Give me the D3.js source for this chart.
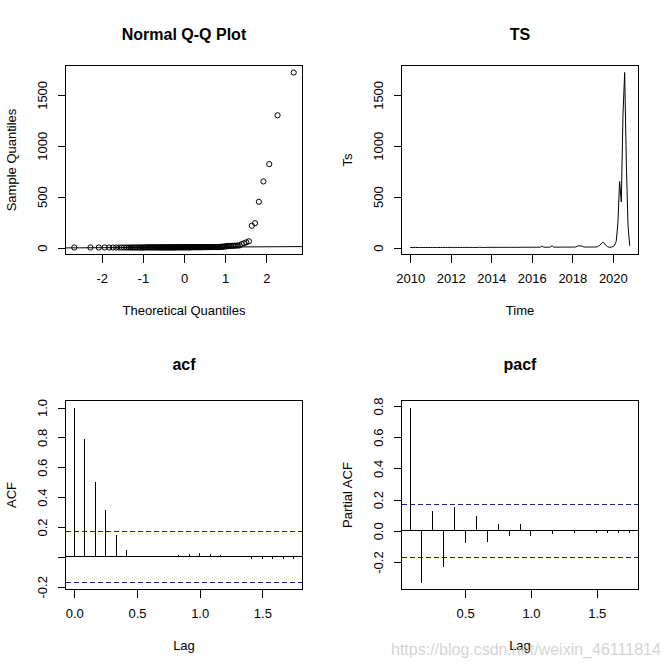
<!DOCTYPE html>
<html><head><meta charset="utf-8">
<script src="https://cdn.jsdelivr.net/npm/d3@7/dist/d3.min.js"></script>
<style>
body{margin:0;background:#fff}
svg{display:block}
text{font-family:"Liberation Sans",Arial,sans-serif}
line,rect{shape-rendering:crispEdges}
</style>
</head><body>
<svg id="c" width="672" height="671"></svg>
<script>
// ---------------- data ----------------
const tsStartYear = 2010;          // monthly series starting Jan 2010
const tsValues = [
  1,1,1,2,1,1,2,1,1,2,1,1,          // 2010
  1,2,1,1,2,1,1,2,2,1,1,2,          // 2011
  2,1,2,2,1,2,2,1,2,2,1,2,          // 2012
  2,2,1,2,2,3,2,2,1,2,3,2,          // 2013
  2,3,2,2,3,2,3,2,2,3,2,3,          // 2014
  3,2,3,3,2,3,3,4,3,3,4,3,          // 2015
  3,4,3,4,4,3,16,4,3,4,4,5,         // 2016
  17,4,5,4,4,5,4,5,5,4,5,5,         // 2017
  5,6,5,14,18,16,12,6,5,6,5,6,      // 2018
  6,5,6,10,20,35,52,42,20,8,3,5,    // 2019
  10,22,62,240,650,450,1300,1720,820,215,18 // 2020
];
const yearTicks = [2010,2012,2014,2016,2018,2020];
const valueTicks = [0,500,1000,1500];
const qqXTicks = [-2,-1,0,1,2];

const acfValues = [1.0,0.79,0.501,0.314,0.149,0.047,0.009,0.002,0.009,0.009,0.016,0.022,0.029,0.022,0.016,0.0,0.0,-0.013,-0.013,-0.013,-0.013,-0.013];
const pacfValues = [0.79,-0.331,0.129,-0.229,0.15,-0.08,0.092,-0.074,0.046,-0.036,0.046,-0.036,0.0,-0.022,0.007,-0.011,0.0,-0.011,-0.011,-0.011,-0.011];
const ciLimit = 0.1712;
const lagTicks = [0,0.5,1,1.5];
const lagLabels = ["0.0","0.5","1.0","1.5"];
const acfYTicks = [-0.2,0,0.2,0.4,0.6,0.8,1.0];
const acfYLabels = ["-0.2","","0.2","0.4","0.6","0.8","1.0"];
const pacfXTicks = [0.5,1,1.5];
const pacfXLabels = ["0.5","1.0","1.5"];
const pacfYTicks = [-0.2,0,0.2,0.4,0.6,0.8];
const pacfYLabels = ["-0.2","0.0","0.2","0.4","0.6","0.8"];

// ---------------- helpers ----------------
const svg = d3.select("#c");
const FS = 13, TFS = 16;
const CI_COL = "#1c1c8a";
function ext(a){ const r=a[1]-a[0]; return [a[0]-0.04*r, a[1]+0.04*r]; }
function box(col,row){
  const ox = col*336, oy = row===0?0:335;
  return {x0: ox+65.5, x1: ox+302.5, y0: oy+65.5, y1: oy+254.5};
}
function px(v){ return Math.floor(v)+0.5; }
function qnorm(p){
  const a=[-3.969683028665376e+01,2.209460984245205e+02,-2.759285104469687e+02,1.383577518672690e+02,-3.066479806614716e+01,2.506628277459239e+00];
  const b=[-5.447609879822406e+01,1.615858368580409e+02,-1.556989798598866e+02,6.680131188771972e+01,-1.328068155288572e+01];
  const c=[-7.784894002430293e-03,-3.223964580411365e-01,-2.400758277161838e+00,-2.549732539343734e+00,4.374664141464968e+00,2.938163982698783e+00];
  const d=[7.784695709041462e-03,3.224671290700398e-01,2.445134137142996e+00,3.754408661907416e+00];
  const pl=0.02425, ph=1-pl; let q,r;
  if(p<pl){ q=Math.sqrt(-2*Math.log(p)); return (((((c[0]*q+c[1])*q+c[2])*q+c[3])*q+c[4])*q+c[5])/((((d[0]*q+d[1])*q+d[2])*q+d[3])*q+1); }
  if(p<=ph){ q=p-0.5; r=q*q; return (((((a[0]*r+a[1])*r+a[2])*r+a[3])*r+a[4])*r+a[5])*q/(((((b[0]*r+b[1])*r+b[2])*r+b[3])*r+b[4])*r+1); }
  q=Math.sqrt(-2*Math.log(1-p)); return -(((((c[0]*q+c[1])*q+c[2])*q+c[3])*q+c[4])*q+c[5])/((((d[0]*q+d[1])*q+d[2])*q+d[3])*q+1);
}
function frame(b, title, titleY, xlab, ylab, xs, ys, xt, xl, yt, yl){
  const g = svg.append("g");
  const ax = d3.axisBottom(xs).tickValues(xt).tickSize(8).tickPadding(11.5).tickFormat((d,i)=>xl[i]);
  const gx = g.append("g").attr("transform",`translate(0,${b.y1})`).call(ax);
  gx.select(".domain").remove();
  gx.selectAll("line").attr("stroke","#000");
  gx.selectAll("text").attr("fill","#000").attr("font-size",FS);
  const ay = d3.axisLeft(ys).tickValues(yt).tickSize(8).tickFormat((d,i)=>yl[i]);
  const gy = g.append("g").attr("transform",`translate(${b.x0},0)`).call(ay);
  gy.select(".domain").remove();
  gy.selectAll("line").attr("stroke","#000");
  gy.selectAll("text").attr("fill","#000").attr("font-size",FS)
    .attr("x",0).attr("dy",null).attr("text-anchor","middle")
    .attr("transform","translate(-18.3,0) rotate(-90)");
  gx.attr("font-family",null); gy.attr("font-family",null);
  g.append("rect").attr("x",b.x0).attr("y",b.y0).attr("width",b.x1-b.x0).attr("height",b.y1-b.y0)
    .attr("fill","none").attr("stroke","#000").attr("stroke-width",1);
  const cx=(b.x0+b.x1)/2, cy=(b.y0+b.y1)/2;
  g.append("text").attr("x",cx).attr("y",titleY).attr("text-anchor","middle")
    .attr("font-size",TFS).attr("font-weight","bold").text(title);
  g.append("text").attr("x",cx).attr("y",b.y1+60).attr("text-anchor","middle")
    .attr("font-size",FS).text(xlab);
  g.append("text").attr("transform",`translate(${b.x0-49.5},${cy}) rotate(-90)`).attr("text-anchor","middle")
    .attr("font-size",FS).text(ylab);
  return g;
}
function clip(id,b){
  svg.append("clipPath").attr("id",id).append("rect")
    .attr("x",b.x0).attr("y",b.y0).attr("width",b.x1-b.x0).attr("height",b.y1-b.y0);
  return `url(#${id})`;
}

const n = tsValues.length;
const yValDomain = ext(d3.extent(tsValues));

// ---------------- Q-Q plot ----------------
{
  const b = box(0,0);
  const sorted = tsValues.slice().sort(d3.ascending);
  const qx = sorted.map((v,i)=>qnorm((i+0.5)/n));
  const xs = d3.scaleLinear().domain(ext(d3.extent(qx))).range([b.x0,b.x1]);
  const ys = d3.scaleLinear().domain(yValDomain).range([b.y1,b.y0]);
  const g = frame(b,"Normal Q-Q Plot",39.8,"Theoretical Quantiles","Sample Quantiles",xs,ys,
    qqXTicks,qqXTicks.map(String),valueTicks,valueTicks.map(String));
  const q1=d3.quantile(sorted,0.25), q3=d3.quantile(sorted,0.75);
  const x1=qnorm(0.25), x2=qnorm(0.75);
  const slope=(q3-q1)/(x2-x1), icpt=q1-slope*x1;
  const dx = xs.domain();
  g.append("line").attr("clip-path",clip("cq",b))
    .attr("x1",xs(dx[0])).attr("x2",xs(dx[1]))
    .attr("y1",ys(icpt+slope*dx[0])).attr("y2",ys(icpt+slope*dx[1]))
    .attr("stroke","#000").attr("stroke-width",1).style("shape-rendering","auto");
  g.append("g").selectAll("circle").data(sorted).join("circle")
    .attr("cx",(d,i)=>xs(qx[i])).attr("cy",d=>ys(d)).attr("r",2.6)
    .attr("fill","none").attr("stroke","#000").attr("stroke-width",1);
}

// ---------------- TS plot ----------------
{
  const b = box(1,0);
  const times = tsValues.map((v,i)=>tsStartYear+i/12);
  const xs = d3.scaleLinear().domain(ext(d3.extent(times))).range([b.x0,b.x1]);
  const ys = d3.scaleLinear().domain(yValDomain).range([b.y1,b.y0]);
  const g = frame(b,"TS",39.8,"Time","Ts",xs,ys,yearTicks,yearTicks.map(String),valueTicks,valueTicks.map(String));
  const line = d3.line().x((d,i)=>xs(times[i])).y(d=>ys(d));
  g.append("path").attr("d",line(tsValues)).attr("fill","none").attr("stroke","#000").attr("stroke-width",1);
}

// ---------------- correlogram helper ----------------
function correlogram(b, vals, lags, xs, ys, id){
  const g = svg.append("g");
  const cp = clip(id,b);
  const y0 = px(ys(0));
  g.append("line").attr("clip-path",cp).attr("x1",b.x0).attr("x2",b.x1).attr("y1",y0).attr("y2",y0).attr("stroke","#000");
  [ciLimit,-ciLimit].forEach(c=>g.append("line").attr("clip-path",cp).attr("x1",b.x0).attr("x2",b.x1)
    .attr("y1",px(ys(c))).attr("y2",px(ys(c))).attr("stroke",CI_COL).attr("stroke-dasharray","5,3"));
  g.append("g").selectAll("line").data(vals).join("line")
    .attr("x1",(d,i)=>px(xs(lags[i]))).attr("x2",(d,i)=>px(xs(lags[i])))
    .attr("y1",y0).attr("y2",d=>ys(d)).attr("stroke","#000").attr("stroke-width",1);
}

// ---------------- ACF ----------------
{
  const b = box(0,1);
  const lags = acfValues.map((v,i)=>i/12);
  const xs = d3.scaleLinear().domain(ext(d3.extent(lags))).range([b.x0,b.x1]);
  const ys = d3.scaleLinear().domain(ext([Math.min(-ciLimit,d3.min(acfValues)),Math.max(ciLimit,d3.max(acfValues))])).range([b.y1,b.y0]);
  frame(b,"acf",369.5,"Lag","ACF",xs,ys,lagTicks,lagLabels,acfYTicks,acfYLabels);
  correlogram(b, acfValues, lags, xs, ys, "ca");
}

// ---------------- PACF ----------------
{
  const b = box(1,1);
  const lags = pacfValues.map((v,i)=>(i+1)/12);
  const xs = d3.scaleLinear().domain(ext(d3.extent(lags))).range([b.x0,b.x1]);
  const ys = d3.scaleLinear().domain(ext([Math.min(-ciLimit,d3.min(pacfValues)),Math.max(ciLimit,d3.max(pacfValues))])).range([b.y1,b.y0]);
  frame(b,"pacf",369.5,"Lag","Partial ACF",xs,ys,pacfXTicks,pacfXLabels,pacfYTicks,pacfYLabels);
  correlogram(b, pacfValues, lags, xs, ys, "cp");
}

// watermark
svg.append("text").attr("x",391).attr("y",654.5).attr("font-size",16)
  .attr("fill","#cccccc").attr("fill-opacity",0.85).text("https://blog.csdn.net/weixin_46111814");
</script>
</body></html>
